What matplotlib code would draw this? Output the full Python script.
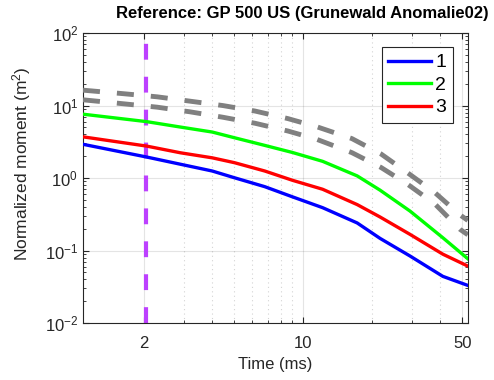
import numpy as np
import matplotlib
matplotlib.use('Agg')
import matplotlib.pyplot as plt
from matplotlib.ticker import FixedLocator, NullFormatter, LogLocator

plt.rcParams['font.family'] = ['Liberation Sans', 'DejaVu Sans']
plt.rcParams['mathtext.fontset'] = 'custom'
plt.rcParams['mathtext.rm'] = 'Liberation Sans'
plt.rcParams['mathtext.default'] = 'regular'

# time grid of the three coloured curves (ms)
t_col = [1.084, 2.06, 2.9, 4.0, 5.0, 6.8, 9.0, 12.2, 17.3, 21.8, 29.5, 41.1, 52.9]
m1 = [2.92, 1.95, 1.55, 1.25, 1.01, 0.76, 0.55, 0.39, 0.24, 0.147, 0.084, 0.044, 0.033]
m2 = [7.6, 6.0, 5.05, 4.31, 3.6, 2.82, 2.25, 1.70, 1.07, 0.68, 0.35, 0.15, 0.077]
m3 = [3.7, 2.76, 2.23, 1.9, 1.63, 1.25, 0.93, 0.70, 0.43, 0.29, 0.167, 0.089, 0.061]

# reference (grey dashed) curves
t_ref = [1.084, 1.62, 2.29, 3.19, 4.45, 6.16, 8.6, 11.5, 16.4, 22.0, 28.8, 37.9, 48.9, 52.9]
ref_hi = [16.3, 14.6, 13.2, 11.5, 10.0, 8.4, 6.6, 5.1, 3.5, 2.15, 1.18, 0.63, 0.31, 0.26]
ref_lo = [12.0, 10.6, 9.5, 8.2, 6.9, 5.7, 4.45, 3.42, 2.24, 1.4, 0.82, 0.44, 0.196, 0.165]

t_mark = 2.05
xticks = [2, 10, 50]
labels = ['1', '2', '3']

fig = plt.figure(figsize=(4.94, 3.80), dpi=100)
ax = fig.add_axes([0.168, 0.150, 0.779, 0.763])
ax.set_xscale('log')
ax.set_yscale('log')

ax.plot([t_mark, t_mark], [1e-2, 1e2], color=(0.74, 0.25, 1.0), lw=3.0,
        dashes=(3.8, 4.1), zorder=2)
for r in (ref_hi, ref_lo):
    ax.plot(t_ref, r, color=(0.5, 0.5, 0.5), lw=3.5, dashes=(3.5, 3.5), zorder=3)

for y, c, lab in zip((m1, m2, m3), ('#0000ff', '#00ff00', '#ff0000'), labels):
    ax.plot(t_col, y, color=c, lw=2.4, label=lab, zorder=4)

ax.set_xlim(1.084, 52.9)
ax.set_ylim(1e-2, 1e2)
ax.xaxis.set_major_locator(FixedLocator(xticks))
ax.xaxis.set_minor_locator(FixedLocator([3, 4, 5, 6, 7, 8, 9, 20, 30, 40, 50]))
ax.xaxis.set_major_formatter(plt.FixedFormatter([str(v) for v in xticks]))
ax.xaxis.set_minor_formatter(NullFormatter())
ax.yaxis.set_major_locator(LogLocator(base=10, numticks=10))
ax.yaxis.set_minor_locator(LogLocator(base=10, subs=np.arange(2, 10), numticks=10))

dark = (0.15, 0.15, 0.15)
ax.grid(True, which='major', color=(0.15, 0.15, 0.15), alpha=0.12, lw=0.8)
ax.grid(True, which='minor', axis='x', color=(0.15, 0.15, 0.15), alpha=0.2,
        lw=0.8, linestyle=(0, (1, 3)))
ax.tick_params(which='both', direction='in', top=True, right=True, colors=dark,
               labelsize=12, labelcolor=dark)
ax.tick_params(which='major', length=4)
ax.tick_params(axis='x', which='major', pad=9)
ax.tick_params(which='minor', length=2.5)
for s in ax.spines.values():
    s.set_color(dark)
    s.set_linewidth(0.8)

ax.set_xlabel('Time (ms)', fontsize=12, color=dark, labelpad=5)
ax.set_ylabel('Normalized moment (m$^2$)', fontsize=12.5, color=dark)
ax.yaxis.set_label_coords(-0.13, 0.55)
fig.text(0.612, 0.985, 'Reference: GP 500 US (Grunewald Anomalie02)', fontsize=12,
         fontweight='bold', ha='center', va='top')

leg = ax.legend(loc='upper right', bbox_to_anchor=(0.961, 0.952), fontsize=14,
                fancybox=False, framealpha=1, edgecolor=dark, handlelength=2.2,
                handletextpad=0.2, labelspacing=0.25, borderpad=0.35,
                borderaxespad=0)
leg.get_frame().set_linewidth(0.8)

fig.savefig('out.png', dpi=100)
